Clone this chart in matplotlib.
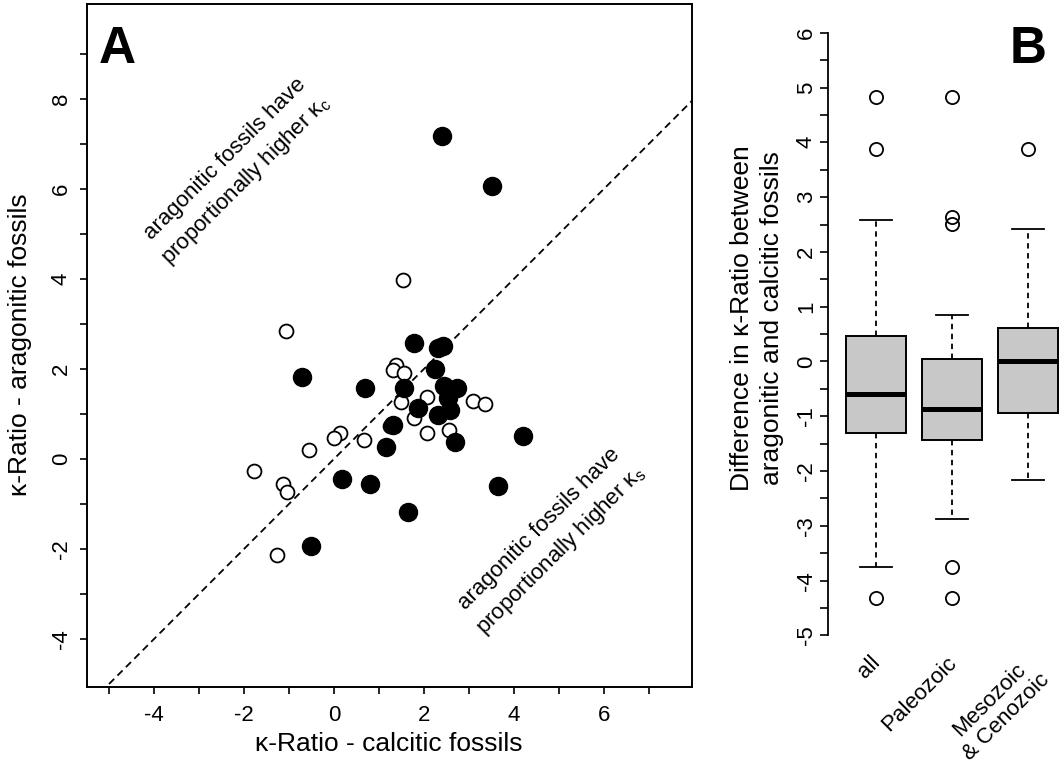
import matplotlib
matplotlib.use('Agg')
import matplotlib.pyplot as plt
import matplotlib.transforms as mtransforms

plt.rcParams['font.family'] = ['Liberation Sans', 'DejaVu Sans']
plt.rcParams['axes.unicode_minus'] = False
plt.rcParams['mathtext.fontset'] = 'custom'
plt.rcParams['mathtext.rm'] = 'Liberation Sans'
plt.rcParams['mathtext.it'] = 'Liberation Sans:italic'

# panel A: kappa ratios, open = one group, filled = the other
calc_open = [-1.07, 1.37, 1.32, 1.56, 1.49, 2.07, 3.10, 3.36, 1.77, 1.24, 2.06,
             2.55, 0.67, 0.13, 0.00, -0.55, -1.77, -1.13, -1.04, -1.26, 1.54]
arag_open = [2.84, 2.09, 1.98, 1.90, 1.27, 1.38, 1.29, 1.22, 0.90, 0.73, 0.58,
             0.64, 0.42, 0.57, 0.47, 0.21, -0.27, -0.56, -0.74, -2.14, 3.97]
calc_filled = [1.79, 2.32, 2.43, 2.24, -0.70, 0.68, 1.56, 2.44, 2.73, 2.54, 1.86, 2.58,
               2.32, 1.32, 1.15, 2.70, 4.21, 0.18, 0.81, 3.65, 1.65, -0.51, 2.41, 3.51]
arag_filled = [2.57, 2.46, 2.50, 1.99, 1.83, 1.57, 1.57, 1.62, 1.57, 1.35, 1.14, 1.09,
               0.98, 0.76, 0.27, 0.38, 0.52, -0.44, -0.56, -0.59, -1.17, -1.93, 7.18, 6.06]
one_to_one = [-5, 8]

# panel B: box plot summaries
groups = ['all', 'Paleozoic', 'Mesozoic\n& Cenozoic']
whisk_lo = [-3.75, -2.88, -2.17]
q1 = [-1.31, -1.44, -0.94]
medians = [-0.60, -0.86, 0.01]
q3 = [0.46, 0.05, 0.61]
whisk_hi = [2.59, 0.84, 2.41]
fliers = [[4.82, 3.88, -4.32], [4.82, 2.63, 2.51, -3.75, -4.32], [3.88]]

W, H = 1064, 766
fig = plt.figure(figsize=(W / 100, H / 100), dpi=100)

# ---- panel A ----
ax = fig.add_axes([87 / W, 1 - 686.7 / H, 605 / W, 682.7 / H])
ax.plot(one_to_one, one_to_one, color='black', lw=1.3, ls=(0, (4, 2.6)), zorder=1)
ax.plot(calc_open, arag_open, 'o', ls='none', ms=10, mfc='white', mec='black', mew=1.3, zorder=2)
ax.plot(calc_filled, arag_filled, 'o', ls='none', ms=13, color='black', zorder=3)
ax.set_xlim(-5.49, 7.96)
ax.set_ylim(-5.06, 10.11)
ax.set_xticks([-4, -2, 0, 2, 4, 6])
ax.set_xticks([-5, -3, -1, 1, 3, 5, 7], minor=True)
ax.set_yticks([-4, -2, 0, 2, 4, 6, 8])
ax.set_yticks([-3, -1, 1, 3, 5, 7, 9], minor=True)
ax.tick_params(which='both', direction='out', length=5, width=1.2, labelsize=16, pad=8)
ax.tick_params(axis='y', labelrotation=90, pad=6)
for lab in ax.get_yticklabels():
    lab.set_va('center')
for sp in ax.spines.values():
    sp.set_linewidth(1.4)

ax.text(-2.17, 6.42, 'aragonitic fossils have\nproportionally higher κ$_{\\rm c}$',
        rotation=45, rotation_mode='anchor', ha='center', va='center',
        multialignment='center', fontsize=16, linespacing=1.4)
ax.text(4.82, -1.8, 'aragonitic fossils have\nproportionally higher κ$_{\\rm s}$',
        rotation=45, rotation_mode='anchor', ha='center', va='center',
        multialignment='center', fontsize=16, linespacing=1.4)

fig.text(117.5 / W, 1 - 63 / H, 'A', fontsize=37, fontweight='bold', ha='center', va='baseline')
fig.text(389 / W, 1 - 744 / H, 'κ-Ratio - calcitic fossils', fontsize=19, ha='center', va='center')
fig.text(20 / W, 1 - 345 / H, 'κ-Ratio - aragonitic fossils', fontsize=19,
         rotation=90, ha='center', va='center')

# ---- panel B ----
bx = fig.add_axes([828 / W, 1 - 659.6 / H, (W - 828) / W, 651 / H])
stats = []
for g, lo, a, m, b, hi, f in zip(groups, whisk_lo, q1, medians, q3, whisk_hi, fliers):
    stats.append(dict(label=g, whislo=lo, q1=a, med=m, q3=b, whishi=hi, fliers=f))
bx.bxp(stats, positions=[1, 2, 3], widths=0.8, capwidths=0.42, patch_artist=True,
       manage_ticks=False,
       boxprops=dict(facecolor='#c8c8c8', edgecolor='black', linewidth=1.4),
       medianprops=dict(color='black', linewidth=3.6, solid_capstyle='butt'),
       whiskerprops=dict(color='black', linewidth=1.3, linestyle=(0, (3, 2.5))),
       capprops=dict(color='black', linewidth=1.3),
       flierprops=dict(marker='o', markersize=9.5, markerfacecolor='none',
                       markeredgecolor='black', markeredgewidth=1.3))
bx.set_xlim(0.368, 3.474)
bx.set_ylim(-5.44, 6.44)
for s in ['top', 'right', 'bottom']:
    bx.spines[s].set_visible(False)
bx.spines['left'].set_bounds(-5, 6)
bx.spines['left'].set_linewidth(1.3)
bx.set_xticks([])
bx.set_yticks(range(-5, 7))
bx.set_yticks([v + 0.5 for v in range(-5, 6)], minor=True)
bx.tick_params(axis='y', which='both', direction='out', length=6, width=1.2,
               labelsize=16, pad=2, labelrotation=90)
for lab in bx.get_yticklabels():
    lab.set_va('center')
bx.patch.set_alpha(0)

trans = mtransforms.blended_transform_factory(bx.transData, bx.transData)
for i, g in enumerate(groups):
    bx.text(i + 0.92, -5.3, g, rotation=45, rotation_mode='anchor', ha='right', va='top',
            multialignment='center', fontsize=16, transform=trans, clip_on=False)

fig.text(1028 / W, 1 - 63.3 / H, 'B', fontsize=37, fontweight='bold', ha='center', va='baseline')
fig.text(757 / W, 1 - 318 / H, 'Difference in κ-Ratio between\naragonitic and calcitic fossils',
         fontsize=19, rotation=90, ha='center', va='center', multialignment='center',
         linespacing=1.3)

fig.savefig('out.png', dpi=100)
